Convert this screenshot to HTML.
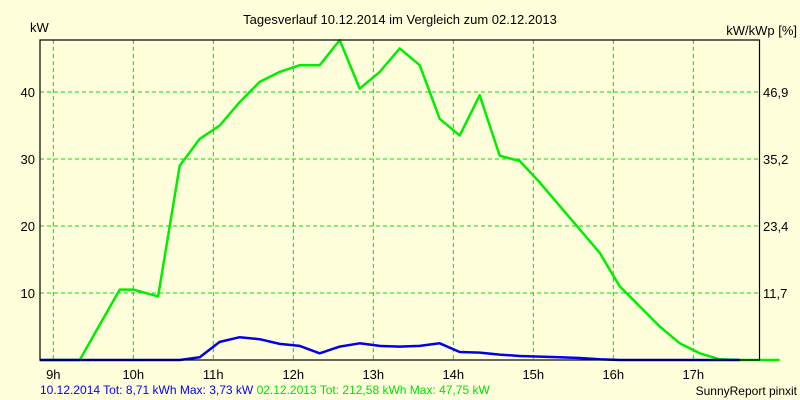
<!DOCTYPE html>
<html><head><meta charset="utf-8"><style>
body{margin:0;background:#ffffdc;}
svg{display:block;font-family:"Liberation Sans",sans-serif;}
</style></head><body>
<svg id="chart" width="800" height="400" viewBox="0 0 800 400">
<rect x="0" y="0" width="800" height="400" fill="#ffffdc"/>
<text x="400" y="24" font-size="13" text-anchor="middle" fill="#000">Tagesverlauf 10.12.2014 im Vergleich zum 02.12.2013</text>
<text x="30" y="32" font-size="13" fill="#000">kW</text>
<text x="797" y="35" font-size="13" text-anchor="end" fill="#000">kW/kWp [%]</text>
<g id="grid"></g>
<g id="series"></g>
<rect x="40" y="40" width="719.5" height="320" fill="none" stroke="#000" stroke-width="1.2"/>
<g id="labels"></g>
<text x="40" y="394" font-size="12" fill="#0000ff">10.12.2014 Tot: 8,71 kWh Max: 3,73 kW <tspan fill="#00e000">02.12.2013 Tot: 212,58 kWh Max: 47,75 kW</tspan></text>
<text x="797" y="395" font-size="12" text-anchor="end" fill="#000">SunnyReport pinxit</text>
</svg>
<script>
const hourTicks=[9,10,11,12,13,14,15,16,17];
const yTicks=[10,20,30,40];
const yRightLabels=["11,7","23,4","35,2","46,9"];
const times=[8.83,9.33,9.83,10,10.31,10.58,10.83,11.08,11.33,11.58,11.83,12.08,12.33,12.58,12.83,13.08,13.33,13.58,13.83,14.08,14.33,14.58,14.83,15.08,15.33,15.58,15.83,16.08,16.33,16.58,16.83,17.08,17.33,17.58,18.08];
const green2013=[0,0,10.5,10.5,9.5,29,33,35,38.5,41.5,43,44,44,47.75,40.5,43,46.5,44,36,33.5,39.5,30.5,29.7,26.5,23,19.5,16,11,8,5,2.5,1,0.1,0,0];
const blue2014=[0,0,0,0,0,0,0.4,2.7,3.4,3.1,2.4,2.1,1.0,2.0,2.5,2.1,2.0,2.1,2.5,1.2,1.1,0.8,0.6,0.5,0.4,0.3,0.1,0,0,0,0,0,0,0];
const NS="http://www.w3.org/2000/svg";
const X=h=>53.3+(h-9)*80;
const Y=v=>360-v*6.7;
const grid=document.getElementById('grid'),labels=document.getElementById('labels'),series=document.getElementById('series');
function mk(tag,attrs,parent){const e=document.createElementNS(NS,tag);for(const k in attrs)e.setAttribute(k,attrs[k]);parent.appendChild(e);return e;}
hourTicks.forEach(h=>{
 const l=mk('line',{x1:X(h),x2:X(h),y1:40,y2:360,stroke:'#00dd00','stroke-dasharray':'4,3','stroke-width':1},grid);
 
 
 const t=mk('text',{x:X(h),y:379,'font-size':13,'text-anchor':'middle',fill:'#000'},labels);
 t.textContent=h+'h';
 
 
});
yTicks.forEach((v,i)=>{
 const l=mk('line',{x1:40,x2:759,y1:Y(v),y2:Y(v),stroke:'#00dd00','stroke-dasharray':'4,3','stroke-width':1},grid);
 
 
 const t=mk('text',{x:35,y:Y(v)+5,'font-size':13,'text-anchor':'end',fill:'#000'},labels);
 t.textContent=v;
 
 
 const r=mk('text',{x:763,y:Y(v)+5,'font-size':13,fill:'#000'},labels);
 r.textContent=yRightLabels[i];
 
 
});
function line(vals,color,name){
 const p=mk('polyline',{points:vals.map((v,i)=>X(times[i]).toFixed(1)+','+Y(v).toFixed(1)).join(' '),fill:'none',stroke:color,'stroke-width':2.5,'stroke-linejoin':'round'},series);
 
 
}
line(green2013,'#00ee00','series-2013-line');
line(blue2014,'#0000ee','series-2014-line');
</script>
</body></html>
